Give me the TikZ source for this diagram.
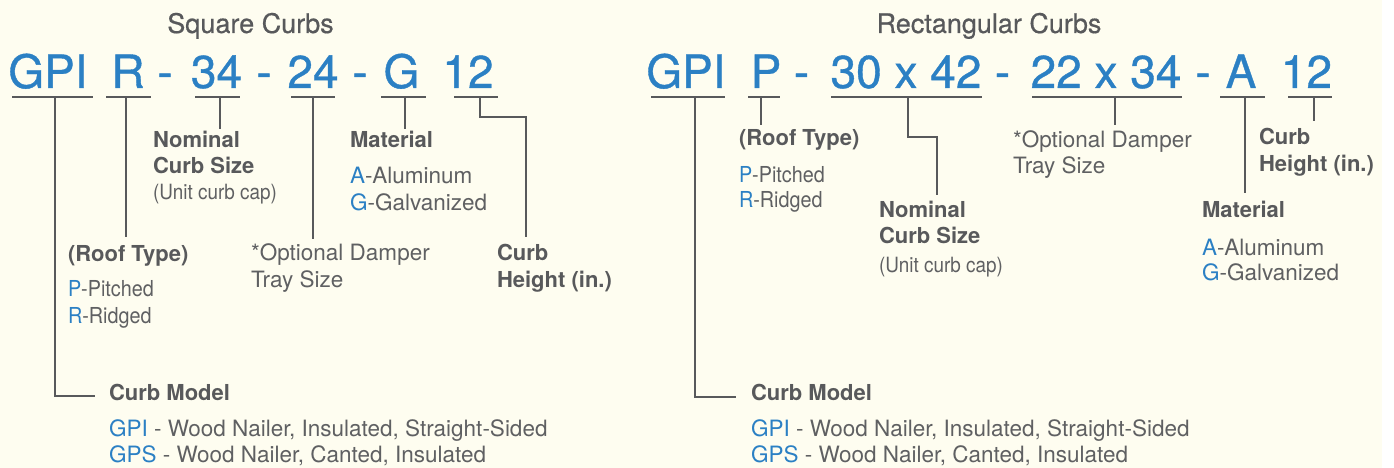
\documentclass[tikz,border=0pt]{standalone}
\usepackage{fontspec}
\setmainfont{TeX Gyre Heros}
\newfontfamily\condfont[FakeStretch=0.9]{TeX Gyre Heros}
\newfontfamily\codefont[FakeBold=0.8]{TeX Gyre Heros}
\newfontfamily\ttlfont[FakeBold=0.5]{TeX Gyre Heros}
\definecolor{bg}{HTML}{FEFDF0}
\definecolor{blu}{HTML}{2B80C4}
\definecolor{gry}{HTML}{58595B}
\definecolor{lgry}{HTML}{5F6062}
\begin{document}
\begin{tikzpicture}[x=1pt,y=-1pt,
  every node/.style={inner sep=0pt, outer sep=0pt, text=gry},
  code/.style={anchor=base, font=\codefont\fontsize{46}{46}\selectfont, text=blu},
  ttl/.style={anchor=base, font=\ttlfont\fontsize{27}{27}\selectfont},
  head/.style={anchor=base west, font=\bfseries\fontsize{22}{22}\selectfont},
  item/.style={anchor=base west, text=lgry, font=\fontsize{22.5}{22.5}\selectfont},
  citem/.style={anchor=base west, text=lgry, font=\condfont\fontsize{22}{22}\selectfont},
  ucap/.style={anchor=base west, text=lgry, font=\condfont\fontsize{21}{21}\selectfont},
  bar/.style={draw=gry, line width=2.6pt},
  conn/.style={draw=gry, line width=2.6pt, line join=miter}]
\useasboundingbox (0,0) rectangle (1394,468);
\fill[bg] (0,0) rectangle (1382,468);
\fill[white] (1382,0) rectangle (1394,468);

% ---------------- Square curbs ----------------
\node[ttl] (t1) at (250.5,33) {Square Curbs};
\node[code] (sGPI) at (48,88) {GPI};
\node[code] (sR) at (128,88) {R};
\node[code] (sd1) at (165,88) {-};
\node[code] (s34) at (216.5,88) {34};
\node[code] (sd2) at (264,88) {-};
\node[code] (s24) at (313,88) {24};
\node[code] (sd3) at (360,88) {-};
\node[code] (sG) at (401.5,88) {G};
\node[code] (s12) at (468,88) {12};

\draw[bar] (12,97) -- (93,97);
\draw[bar] (106,97) -- (151,97);
\draw[bar] (195,97) -- (240,97);
\draw[bar] (291,97) -- (335,97);
\draw[bar] (381,97) -- (426,97);
\draw[bar] (454,97) -- (498,97);

\coordinate (sb1) at (55,97);   \coordinate (se1) at (95,396);
\coordinate (sb2) at (126,97);  \coordinate (se2) at (126,237);
\coordinate (sb3) at (220,97);  \coordinate (se3) at (220,129);
\coordinate (sb4) at (313,97);  \coordinate (se4) at (313,239);
\coordinate (sb5) at (405,97);  \coordinate (se5) at (405,129);
\coordinate (sb6) at (480,97);  \coordinate (se6) at (526,237);
\draw[conn] (sb1) |- (se1);
\draw[conn] (sb2) -- (se2);
\draw[conn] (sb3) -- (se3);
\draw[conn] (sb4) -- (se4);
\draw[conn] (sb5) -- (se5);
\draw[conn] (sb6) -- (480,117) -| (se6);

\node[head] (sn1) at (153,147) {Nominal};
\node[head] (sn2) at (153,173) {Curb Size};
\node[ucap] (sn3) at (153,199) {(Unit curb cap)};
\node[head] (sm1) at (350,147) {Material};
\node[item] (sm2) at (350,183) {{\color{blu}A}-Aluminum};
\node[item] (sm3) at (350,210) {{\color{blu}G}-Galvanized};
\node[head] (sr1) at (68,261) {(Roof Type)};
\node[citem] (sr2) at (68,296) {{\color{blu}P}-Pitched};
\node[citem] (sr3) at (68,323) {{\color{blu}R}-Ridged};
\node[item] (so1) at (251,260) {*Optional Damper};
\node[item] (so2) at (251,287) {Tray Size};
\node[head] (sh1) at (497,260) {Curb};
\node[head] (sh2) at (497,287) {Height (in.)};
\node[head] (sc1) at (109,400) {Curb Model};
\node[item] (sc2) at (109,436) {{\color{blu}GPI} - Wood Nailer, Insulated, Straight-Sided};
\node[item] (sc3) at (109,462) {{\color{blu}GPS} - Wood Nailer, Canted, Insulated};

% ---------------- Rectangular curbs ----------------
\node[ttl] (t2) at (989,33) {Rectangular Curbs};
\node[code] (rGPI) at (686,88) {GPI};
\node[code] (rP) at (766,88) {P};
\node[code] (rd1) at (801.5,88) {-};
\node[code] (r3042) at (906,88) {30 x 42};
\node[code] (rd2) at (1002.5,88) {-};
\node[code] (r2234) at (1106,88) {22 x 34};
\node[code] (rd3) at (1203,88) {-};
\node[code] (rA) at (1241,88) {A};
\node[code] (r12) at (1306.5,88) {12};

\draw[bar] (651,97) -- (725,97);
\draw[bar] (748,97) -- (780,97);
\draw[bar] (831,97) -- (982,97);
\draw[bar] (1032,97) -- (1182,97);
\draw[bar] (1220,97) -- (1265,97);
\draw[bar] (1288,97) -- (1332,97);

\coordinate (rb1) at (695,97);   \coordinate (re1) at (736,397);
\coordinate (rb2) at (761,97);   \coordinate (re2) at (761,125);
\coordinate (rb3) at (908,97);   \coordinate (re3) at (937,195);
\coordinate (rb4) at (1115,97);  \coordinate (re4) at (1115,125);
\coordinate (rb5) at (1245,97);  \coordinate (re5) at (1245,193);
\coordinate (rb6) at (1314,97);  \coordinate (re6) at (1314,121);
\draw[conn] (rb1) |- (re1);
\draw[conn] (rb2) -- (re2);
\draw[conn] (rb3) -- (908,137) -| (re3);
\draw[conn] (rb4) -- (re4);
\draw[conn] (rb5) -- (re5);
\draw[conn] (rb6) -- (re6);

\node[head] (rr1) at (739,146) {(Roof Type)};
\node[citem] (rr2) at (739,182) {{\color{blu}P}-Pitched};
\node[citem] (rr3) at (739,207) {{\color{blu}R}-Ridged};
\node[head] (rn1) at (879,217) {Nominal};
\node[head] (rn2) at (879,243) {Curb Size};
\node[ucap] (rn3) at (879,272) {(Unit curb cap)};
\node[item] (ro1) at (1013,147) {*Optional Damper};
\node[item] (ro2) at (1013,173) {Tray Size};
\node[head] (rh1) at (1259,145) {Curb};
\node[head] (rh2) at (1259,171) {Height (in.)};
\node[head] (rm1) at (1202,217) {Material};
\node[item] (rm2) at (1202,255) {{\color{blu}A}-Aluminum};
\node[item] (rm3) at (1202,280) {{\color{blu}G}-Galvanized};
\node[head] (rc1) at (751,400) {Curb Model};
\node[item] (rc2) at (751,436) {{\color{blu}GPI} - Wood Nailer, Insulated, Straight-Sided};
\node[item] (rc3) at (751,462) {{\color{blu}GPS} - Wood Nailer, Canted, Insulated};
\end{tikzpicture}
\end{document}
